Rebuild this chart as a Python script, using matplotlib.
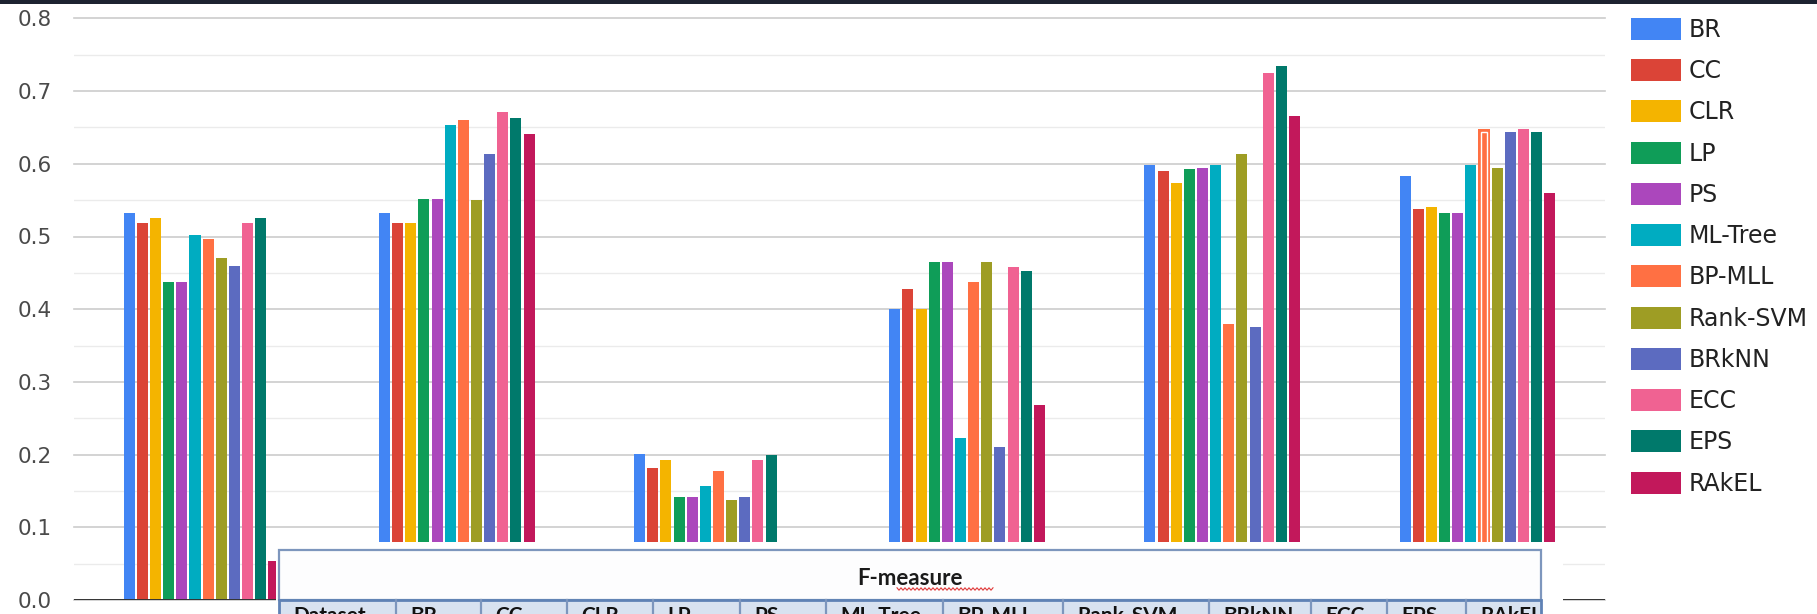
import numpy as np
import matplotlib
matplotlib.use("Agg")
import matplotlib.pyplot as plt
from matplotlib.patches import Rectangle
from matplotlib.lines import Line2D

# ---- data -------------------------------------------------------------
datasets = ["D1", "D2", "D3", "D4", "D5", "D6"]
methods = ["BR", "CC", "CLR", "LP", "PS", "ML-Tree", "BP-MLL",
           "Rank-SVM", "BRkNN", "ECC", "EPS", "RAkEL"]

br       = [0.532, 0.532, 0.201, 0.400, 0.599, 0.583]
cc       = [0.518, 0.519, 0.182, 0.428, 0.590, 0.538]
clr      = [0.526, 0.518, 0.192, 0.400, 0.574, 0.540]
lp       = [0.437, 0.552, 0.142, 0.465, 0.593, 0.533]
ps       = [0.437, 0.552, 0.142, 0.465, 0.594, 0.533]
ml_tree  = [0.502, 0.654, 0.157, 0.223, 0.599, 0.599]
bp_mll   = [0.496, 0.660, 0.177, 0.437, 0.380, 0.648]
rank_svm = [0.470, 0.550, 0.138, 0.465, 0.614, 0.594]
brknn    = [0.459, 0.613, 0.142, 0.210, 0.375, 0.644]
ecc      = [0.519, 0.671, 0.192, 0.458, 0.725, 0.648]
eps      = [0.526, 0.663, 0.199, 0.453, 0.735, 0.644]
rakel    = [0.054, 0.641, 0.060, 0.268, 0.666, 0.560]

series = [br, cc, clr, lp, ps, ml_tree, bp_mll, rank_svm, brknn, ecc, eps, rakel]

colors = ["#4285F4", "#DB4437", "#F4B400", "#0F9D58", "#AB47BC", "#00ACC1",
          "#FF7043", "#9E9D24", "#5C6BC0", "#F06292", "#00796B", "#C2185B"]

yticks = [0.0, 0.1, 0.2, 0.3, 0.4, 0.5, 0.6, 0.7, 0.8]
table_title = "F-measure"
table_columns = ["Dataset"] + methods
highlighted = ("BP-MLL", 5)   # bar shown with the selection outline

# ---- figure -----------------------------------------------------------
W, H = 1817, 614
DPI = 100
fig = plt.figure(figsize=(W / DPI, H / DPI), dpi=DPI, facecolor="white")

def fx(px):
    return px / W

def fy(py):
    return 1 - py / H

ax = fig.add_axes([fx(74), fy(600), fx(1605) - fx(74), fy(18.4) - fy(600)])
ax.set_facecolor("white")

n_groups = len(datasets)
n_series = len(series)
group_width = 0.618
slot = group_width / n_series
x = np.arange(n_groups)

handles = []
for j, (vals, col, name) in enumerate(zip(series, colors, methods)):
    pos = x - group_width / 2 + slot * (j + 0.5)
    bars = ax.bar(pos, vals, width=slot * 0.84, color=col, linewidth=0,
                  label=name, zorder=3)
    handles.append(bars)
    if name == highlighted[0]:
        b = bars[highlighted[1]]
        bx, bw, bh = b.get_x(), b.get_width(), b.get_height()
        ax.add_patch(Rectangle((bx + bw * 0.22, 0), bw * 0.56, bh - 0.004,
                               facecolor="none", edgecolor="white",
                               linewidth=1.0, zorder=4))

ax.set_xlim(-0.5, n_groups - 0.5)
ax.set_ylim(0, 0.8)
ax.set_xticks(x)
ax.set_xticklabels(datasets)
ax.tick_params(axis="x", length=0, labelbottom=False)
ax.set_yticks(yticks)
ax.set_yticklabels([f"{v:.1f}" for v in yticks])
ax.set_yticks(np.arange(0.05, 0.8, 0.1), minor=True)
ax.tick_params(axis="y", which="both", length=0, labelsize=15.5,
               labelcolor="#4a4a4a", pad=16)
ax.grid(axis="y", which="major", color="#cccccc", linewidth=1.2, zorder=0)
ax.grid(axis="y", which="minor", color="#ebebeb", linewidth=1.0, zorder=0)
for g in ax.get_ygridlines():
    g.set_clip_on(False)
ax.axhline(0, color="#333333", linewidth=1.4, zorder=5)
for s in ax.spines.values():
    s.set_visible(False)

leg = fig.legend(handles, methods, loc="upper left",
                 bbox_to_anchor=(fx(1631), fy(18)), frameon=False,
                 prop={"family": "DejaVu Sans", "size": 17},
                 handlelength=2.1, handleheight=1.05, handletextpad=0.36,
                 labelspacing=0.73, borderpad=0, borderaxespad=0)
for t in leg.get_texts():
    t.set_color("#222222")

# ---- dark strip along the top edge ----------------------------------
fig.patches.append(Rectangle((0, fy(4)), 1, 1 - fy(4), transform=fig.transFigure,
                             facecolor="#1d2331", edgecolor="none", zorder=10))

# ---- summary table laid over the lower part --------------------------
tl, tr = 279, 1541
col_edges = [279, 396, 481, 567, 653, 740, 826, 943, 1063, 1209, 1311, 1387, 1466, 1541]
fig.patches.append(Rectangle((fx(276), 0), fx(1563) - fx(276), fy(542),
                             transform=fig.transFigure, facecolor="white",
                             edgecolor="none", zorder=10))
# title row
fig.patches.append(Rectangle((fx(tl), fy(600)), fx(tr) - fx(tl), fy(550) - fy(600),
                             transform=fig.transFigure, facecolor="#fdfdfe",
                             edgecolor="#7d96bd", linewidth=1.6, zorder=11))
# header row
fig.patches.append(Rectangle((fx(tl), fy(622)), fx(tr) - fx(tl), fy(600) - fy(622),
                             transform=fig.transFigure, facecolor="#d8e2f0",
                             edgecolor="#5f82b5", linewidth=2.0, zorder=11))
for e in col_edges[1:-1]:
    fig.lines.append(Line2D([fx(e), fx(e)], [fy(600), 0], transform=fig.transFigure,
                            color="#7d96bd", linewidth=1.6, zorder=12))
fig.text(fx((tl + tr) / 2), fy(585), table_title, ha="center", va="baseline",
         fontsize=16, fontweight="bold", family="Lato", color="#1a1a1a", zorder=13)
# spell-check squiggle under the title word
sq_x = np.arange(897, 994, 2.0)
sq_y = 589 + np.where(np.arange(len(sq_x)) % 2 == 0, -1.2, 1.2)
fig.lines.append(Line2D(fx(sq_x), fy(sq_y), transform=fig.transFigure,
                        color="#e03a3a", linewidth=0.8, zorder=13))
for left, name in zip(col_edges[:-1], table_columns):
    fig.text(fx(left + 14), fy(622), name, ha="left", va="baseline",
             fontsize=15, fontweight="bold", family="Lato", color="#111111",
             zorder=13)

fig.savefig("out.png", dpi=DPI, facecolor="white")
